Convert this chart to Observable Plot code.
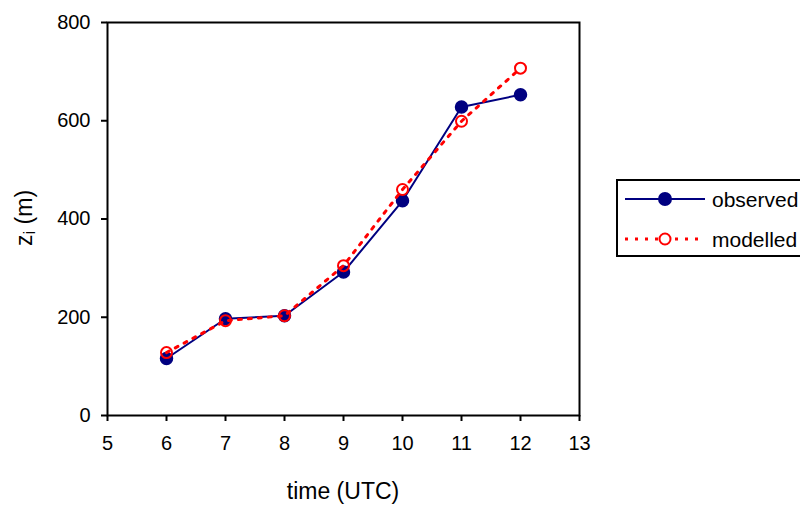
<!DOCTYPE html>
<html>
<head>
<meta charset="utf-8">
<script src="https://cdn.jsdelivr.net/npm/d3@7"></script>
<script src="https://cdn.jsdelivr.net/npm/@observablehq/plot@0.6"></script>
<style>
  html, body { margin: 0; padding: 0; background: #fff; overflow: hidden; }
  #wrap { position: relative; width: 800px; height: 505px; overflow: hidden; }
</style>
</head>
<body>
<div id="wrap"></div>
<script>
// ---- data ----
const hours = [6, 7, 8, 9, 10, 11, 12];
const observed = [116, 197, 203, 292, 437, 628, 653];
const modelled = [128, 193, 203, 305, 460, 599, 707];
const xTicks = [5, 6, 7, 8, 9, 10, 11, 12, 13];
const yTicks = [0, 200, 400, 600, 800];
const seriesNames = ["observed", "modelled"];
const xTitle = "time (UTC)";

const obsData = hours.map((h, i) => ({x: h, y: observed[i]}));
const modData = hours.map((h, i) => ({x: h, y: modelled[i]}));

const NAVY = "#000080", RED = "#ff0000";
const FONT = "'Liberation Sans', Arial, sans-serif";

const chart = Plot.plot({
  width: 800,
  height: 505,
  marginLeft: 107,
  marginRight: 221,
  marginTop: 22,
  marginBottom: 90,
  style: {fontFamily: FONT, fontSize: "20px", color: "#000", background: "#fff"},
  x: {domain: [5, 13], ticks: xTicks},
  y: {domain: [0, 800], ticks: yTicks},
  marks: [
    Plot.axisX({ticks: xTicks, tickSize: 6, tickPadding: 14, fontSize: 20, label: null, stroke: "#000", strokeWidth: 2}),
    Plot.axisY({ticks: yTicks, tickSize: 6, tickPadding: 11, fontSize: 20, label: null, stroke: "#000", strokeWidth: 2}),
    Plot.frame({stroke: "#000", strokeWidth: 2}),
    Plot.line(obsData, {x: "x", y: "y", stroke: NAVY, strokeWidth: 2}),
    Plot.dot(obsData, {x: "x", y: "y", r: 6, fill: NAVY, stroke: NAVY}),
    Plot.line(modData, {x: "x", y: "y", stroke: RED, strokeWidth: 3, strokeDasharray: "3,7"}),
    Plot.dot(modData, {x: "x", y: "y", r: 5.5, fill: "none", stroke: RED, strokeWidth: 2})
  ]
});
document.getElementById("wrap").appendChild(chart);

// axis titles
const svg = d3.select(chart);
svg.append("text")
  .attr("x", 343).attr("y", 499)
  .attr("text-anchor", "middle")
  .style("font-family", FONT).style("font-size", "23px").attr("fill", "#000")
  .text(xTitle);
const yl = svg.append("text")
  .attr("transform", "translate(32,218) rotate(-90)")
  .attr("text-anchor", "middle")
  .style("font-family", FONT).style("font-size", "23px").attr("fill", "#000");
yl.append("tspan").text("z");
yl.append("tspan").text("i").style("font-size", "17px").attr("dy", "3");
yl.append("tspan").text(" (m)").attr("dy", "-3");

// legend
const lg = svg.append("g").attr("transform", "translate(617,180)");
lg.append("rect").attr("x", 0).attr("y", 0).attr("width", 200).attr("height", 76)
  .attr("fill", "#fff").attr("stroke", "#000").attr("stroke-width", 2);
const rows = [
  {name: seriesNames[0], y: 19, color: NAVY, dash: null, w: 2, filled: true},
  {name: seriesNames[1], y: 59, color: RED, dash: "3,7", w: 3, filled: false}
];
rows.forEach(r => {
  lg.append("line").attr("x1", 8).attr("x2", 88).attr("y1", r.y).attr("y2", r.y)
    .attr("stroke", r.color).attr("stroke-width", r.w)
    .attr("stroke-dasharray", r.dash);
  lg.append("circle").attr("cx", 48).attr("cy", r.y).attr("r", r.filled ? 6 : 5.5)
    .attr("fill", r.filled ? r.color : "#fff").attr("stroke", r.color).attr("stroke-width", 2);
  lg.append("text").attr("x", 95).attr("y", r.y + 8)
    .attr("text-anchor", "start")
    .style("font-family", FONT).style("font-size", "21px").attr("fill", "#000")
    .text(r.name);
});
</script>
</body>
</html>
